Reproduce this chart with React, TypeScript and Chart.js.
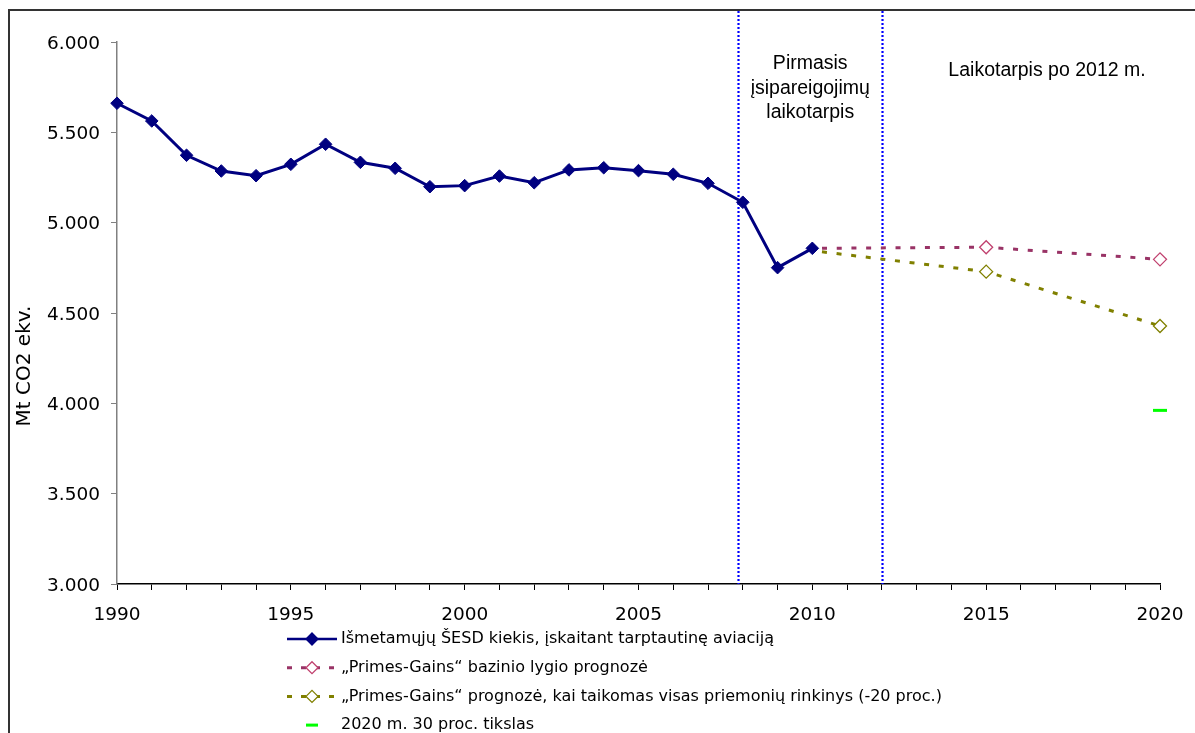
import React, { useEffect, useRef } from 'react';
import { Chart, registerables } from 'chart.js';

Chart.register(...registerables);

// ---- data ----
const emissionYears = [1990, 1991, 1992, 1993, 1994, 1995, 1996, 1997, 1998, 1999, 2000, 2001, 2002, 2003, 2004, 2005, 2006, 2007, 2008, 2009, 2010];
const emissionValues = [5661, 5563, 5373, 5286, 5260, 5323, 5434, 5334, 5301, 5199, 5205, 5258, 5221, 5292, 5304, 5288, 5268, 5218, 5113, 4751, 4858];
const projectionYears = [2010, 2015, 2020];
const baselineValues = [4858, 4864, 4797];
const measuresValues = [4845, 4729, 4428];
const targetYears = [2020];
const targetValues = [3961];
const periodBoundaries = [2007.87, 2012];
const seriesLabels = [
  'Išmetamųjų ŠESD kiekis, įskaitant tarptautinę aviaciją',
  '„Primes-Gains“ bazinio lygio prognozė',
  '„Primes-Gains“ prognozė, kai taikomas visas priemonių rinkinys (-20 proc.)',
  '2020 m. 30 proc. tikslas',
];
const periodLabels = [
  { lines: ['Pirmasis', 'įsipareigojimų', 'laikotarpis'], year: 2009.94 },
  { lines: ['Laikotarpis po 2012 m.'], year: 2016.75 },
];
const yAxisTitle = 'Mt CO2 ekv.';
const xMin = 1990;
const xMax = 2020;
const yMin = 3000;
const yMax = 6000;
const yStep = 500;

const NAVY = '#000080';
const PLUM = '#993366';
const PLUM_MARK = '#c0406e';
const OLIVE = '#808000';
const GREEN = '#00ff00';

const fmt = (v: number) => String(Math.round(v)).replace(/\B(?=(\d{3})+(?!\d))/g, '.');

const overlayPlugin = {
  id: 'overlay',
  beforeDatasetsDraw(chart: any) {
    const { ctx, chartArea, scales } = chart;
    const x = scales.x;
    ctx.save();
    ctx.strokeStyle = '#0000ff';
    ctx.lineWidth = 2.2;
    ctx.setLineDash([2, 2]);
    periodBoundaries.forEach((yr) => {
      const px = Math.round(x.getPixelForValue(yr)) + 0.5;
      ctx.beginPath();
      ctx.moveTo(px, 11);
      ctx.lineTo(px, chartArea.bottom);
      ctx.stroke();
    });
    ctx.restore();

    // period labels
    ctx.save();
    ctx.fillStyle = '#000';
    ctx.font = '19.5px "Liberation Sans", Arial, sans-serif';
    ctx.textAlign = 'center';
    ctx.textBaseline = 'middle';
    const p0 = periodLabels[0];
    p0.lines.forEach((ln, i) => {
      ctx.fillText(ln, x.getPixelForValue(p0.year), chartArea.top + 22 + i * 24.5);
    });
    const p1 = periodLabels[1];
    ctx.fillText(p1.lines[0], x.getPixelForValue(p1.year), chartArea.top + 29);
    ctx.restore();

    // y axis title
    ctx.save();
    ctx.fillStyle = '#000';
    ctx.font = '20px "DejaVu Sans", Verdana, sans-serif';
    ctx.textAlign = 'center';
    ctx.textBaseline = 'middle';
    ctx.translate(chartArea.left - 92, chartArea.top + 324);
    ctx.rotate(-Math.PI / 2);
    ctx.fillText(yAxisTitle, 0, 0);
    ctx.restore();
  },
  afterDraw(chart: any) {
    const { ctx, chartArea } = chart;
    const ds = chart.data.datasets;
    ctx.save();
    ctx.font = '16px "DejaVu Sans", Verdana, sans-serif';
    ctx.textBaseline = 'middle';
    ctx.textAlign = 'left';
    const sx0 = chartArea.left + 170;
    const sx1 = sx0 + 50;
    const mx = sx0 + 25;
    const tx = sx1 + 4;
    ds.forEach((d: any, i: number) => {
      const yy = chartArea.bottom + 55 + i * 28.7;
      ctx.save();
      if (i < 3) {
        ctx.strokeStyle = d.borderColor;
        ctx.lineWidth = i === 0 ? 2.5 : 3;
        ctx.setLineDash(i === 0 ? [] : [5, 9]);
        ctx.lineDashOffset = 0;
        ctx.beginPath();
        ctx.moveTo(sx0, yy);
        ctx.lineTo(sx1, yy);
        ctx.stroke();
        ctx.setLineDash([]);
        ctx.beginPath();
        const r = 6;
        ctx.moveTo(mx, yy - r);
        ctx.lineTo(mx + r, yy);
        ctx.lineTo(mx, yy + r);
        ctx.lineTo(mx - r, yy);
        ctx.closePath();
        ctx.fillStyle = i === 0 ? NAVY : '#fff';
        ctx.fill();
        ctx.lineWidth = 1.3;
        ctx.strokeStyle = i === 0 ? NAVY : d.pointBorderColor;
        ctx.stroke();
      } else {
        ctx.strokeStyle = GREEN;
        ctx.lineWidth = 3;
        ctx.beginPath();
        ctx.moveTo(mx - 6, yy);
        ctx.lineTo(mx + 6, yy);
        ctx.stroke();
      }
      ctx.restore();
      ctx.fillStyle = '#000';
      ctx.fillText(d.label, tx, yy);
    });
    ctx.restore();
  },
};

export default function App() {
  const ref = useRef<HTMLCanvasElement | null>(null);
  useEffect(() => {
    if (!ref.current) return;
    const toPts = (xs: number[], ys: number[]) => xs.map((x, i) => ({ x, y: ys[i] }));
    const chart = new Chart(ref.current, {
      type: 'line',
      data: {
        datasets: [
          {
            label: seriesLabels[0],
            data: toPts(emissionYears, emissionValues),
            borderColor: NAVY,
            backgroundColor: NAVY,
            borderWidth: 3,
            pointStyle: 'rectRot',
            pointRadius: 6.3,
            pointBackgroundColor: NAVY,
            pointBorderColor: NAVY,
            pointBorderWidth: 1,
            tension: 0,
            clip: false,
          },
          {
            label: seriesLabels[1],
            data: toPts(projectionYears, baselineValues),
            borderColor: PLUM,
            borderWidth: 3,
            borderDash: [5, 9.7],
            borderDashOffset: 5,
            pointStyle: 'rectRot',
            pointRadius: [0, 6.5, 6.5],
            pointBackgroundColor: '#fff',
            pointBorderColor: PLUM_MARK,
            pointBorderWidth: 1.3,
            tension: 0,
            clip: false,
          },
          {
            label: seriesLabels[2],
            data: toPts(projectionYears, measuresValues),
            borderColor: OLIVE,
            borderWidth: 3,
            borderDash: [5, 9.7],
            borderDashOffset: 5,
            pointStyle: 'rectRot',
            pointRadius: [0, 6.5, 6.5],
            pointBackgroundColor: '#fff',
            pointBorderColor: OLIVE,
            pointBorderWidth: 1.3,
            tension: 0,
            clip: false,
          },
          {
            label: seriesLabels[3],
            data: toPts(targetYears, targetValues),
            borderColor: GREEN,
            showLine: false,
            pointStyle: 'line',
            pointRadius: 7,
            pointBorderColor: GREEN,
            pointBorderWidth: 3,
            clip: false,
          },
        ],
      },
      options: {
        animation: false,
        responsive: false,
        devicePixelRatio: 1,
        layout: { autoPadding: false, padding: { left: 0, top: 42, right: 35, bottom: 109 } },
        plugins: { legend: { display: false }, tooltip: { enabled: false }, title: { display: false } },
        scales: {
          x: {
            type: 'linear',
            min: xMin,
            max: xMax,
            afterFit: (s: any) => { s.height = 40; s.paddingLeft = 0; s.paddingRight = 0; },
            afterBuildTicks: (s: any) => {
              const t = [];
              for (let y = xMin; y <= xMax; y++) t.push({ value: y });
              s.ticks = t;
            },
            ticks: {
              autoSkip: false,
              maxRotation: 0,
              color: '#000',
              padding: 14,
              font: { family: '"DejaVu Sans", Verdana, sans-serif', size: 18.5 },
              callback: (v: any) => (Number(v) % 5 === 0 ? String(v) : ''),
            },
            grid: { drawOnChartArea: false, drawTicks: true, tickLength: 6, color: '#000', lineWidth: 1 },
            border: { display: true, color: '#000', width: 1.5 },
          },
          y: {
            min: yMin,
            max: yMax,
            afterFit: (s: any) => { s.width = 117; s.paddingTop = 0; s.paddingBottom = 0; },
            ticks: {
              stepSize: yStep,
              color: '#000',
              padding: 11,
              labelOffset: 2,
              font: { family: '"DejaVu Sans", Verdana, sans-serif', size: 18.5 },
              callback: (v: any) => fmt(Number(v)),
            },
            grid: { drawOnChartArea: false, drawTicks: true, tickLength: 6, color: '#808080', lineWidth: 1 },
            border: { display: true, color: '#808080', width: 1.5 },
          },
        },
      },
      plugins: [overlayPlugin],
    });
    return () => chart.destroy();
  }, []);

  return (
    <div style={{ position: 'fixed', left: 0, top: 0, width: 1195, height: 733, overflow: 'hidden', background: '#fff' }}>
      <div style={{ position: 'absolute', left: 8, top: 9, width: 1300, height: 900, border: '2px solid #333', boxSizing: 'border-box' }} />
      <canvas ref={ref} width={1195} height={733} style={{ position: 'absolute', left: 0, top: 0, width: 1195, height: 733 }} />
    </div>
  );
}
